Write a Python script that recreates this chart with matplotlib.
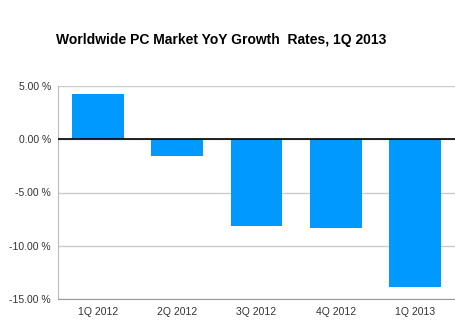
import matplotlib
matplotlib.use("Agg")
import matplotlib.pyplot as plt

categories = ["1Q 2012", "2Q 2012", "3Q 2012", "4Q 2012", "1Q 2013"]
growth = [4.25, -1.6, -8.1, -8.35, -13.9]
yticks = [5, 0, -5, -10, -15]
ytick_labels = ["5.00 %", "0.00 %", "-5.00 %", "-10.00 %", "-15.00 %"]

plt.rcParams['font.family'] = ['Liberation Sans', 'DejaVu Sans']

fig = plt.figure(figsize=(4.56, 3.25), dpi=100)
ax = fig.add_axes([58/456, 1-299/325, 397/456, 213/325])

x = list(range(len(categories)))
ax.bar(x, growth, width=0.65, color="#0099FF", zorder=3)
ax.set_xlim(-0.5, len(categories)-0.5)
ax.set_ylim(-15, 5)
ax.set_yticks(yticks)
ax.set_yticklabels(ytick_labels)
ax.set_xticks(x)
ax.set_xticklabels(categories)
ax.yaxis.grid(True, color="#cccccc", linewidth=1, zorder=0)
ax.axhline(0, color="black", linewidth=1.2, zorder=4)
ax.tick_params(axis="both", length=0, labelsize=7.5, colors="#333333")
ax.tick_params(axis="y", pad=5)
ax.tick_params(axis="x", pad=6)
for s in ["top", "right"]:
    ax.spines[s].set_visible(False)
ax.spines["left"].set_color("#bbbbbb")
ax.spines["bottom"].set_color("#999999")

fig.text(221/456, 1-40/325, "Worldwide PC Market YoY Growth  Rates, 1Q 2013",
         ha="center", va="center", fontsize=10, fontweight="bold", color="black")

fig.savefig("out.png", dpi=100)
